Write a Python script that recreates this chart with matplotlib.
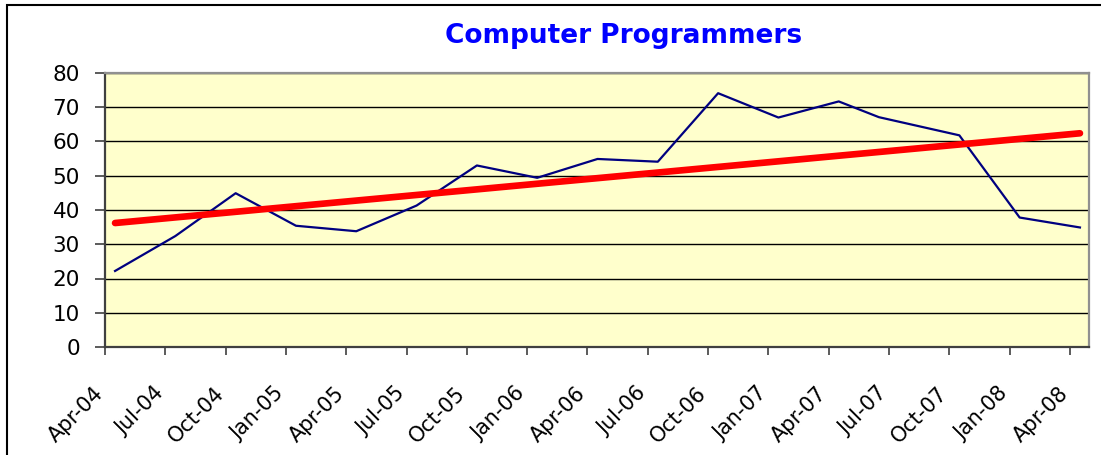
import matplotlib
matplotlib.use("Agg")
import matplotlib.pyplot as plt
from matplotlib.patches import Rectangle
from matplotlib.transforms import ScaledTranslation

# months since Apr-04 for each observation
months = [0.5, 3.5, 6.5, 9.5, 12.5, 15.5, 18.5, 21.5, 24.5, 27.5,
          30.5, 33.5, 36.5, 38.5, 42.5, 45.5, 48.5]
values = [22.2, 32.4, 44.9, 35.4, 33.8, 41.3, 53.0, 49.4, 54.9, 54.1,
          74.1, 67.0, 71.7, 67.1, 61.8, 37.8, 34.9]

# linear trendline end points
trend_months = [0.5, 48.5]
trend_values = [36.2, 62.4]

tick_months = list(range(0, 49, 3))
tick_labels = ["Apr-04", "Jul-04", "Oct-04", "Jan-05", "Apr-05", "Jul-05",
               "Oct-05", "Jan-06", "Apr-06", "Jul-06", "Oct-06", "Jan-07",
               "Apr-07", "Jul-07", "Oct-07", "Jan-08", "Apr-08"]

plt.rcParams["font.family"] = ["DejaVu Sans"]

W, H = 1101, 455
fig = plt.figure(figsize=(W / 100, H / 100), dpi=100)
ax = fig.add_axes([105 / W, 1 - 347 / H, 984 / W, 274 / H])
ax.set_facecolor("#FFFFCC")

ax.plot(months, values, color="#000080", lw=1.6, zorder=3)
ax.plot(trend_months, trend_values, color="#FF0000", lw=4.8,
        solid_capstyle="round", zorder=4)

ax.set_xlim(0, 48.95)
ax.set_ylim(0, 80)
ax.set_yticks(range(0, 81, 10))
ax.set_xticks(tick_months)
ax.set_xticklabels(tick_labels, rotation=45, ha="right", va="top",
                   rotation_mode="anchor")
ax.grid(axis="y", color="black", lw=1.0)
ax.set_axisbelow(True)

ax.tick_params(axis="y", direction="out", length=7, width=1.2,
               color="#404040", labelsize=15.5, pad=11)
ax.tick_params(axis="x", direction="out", length=6, width=1.2,
               color="#404040", labelsize=15, pad=20)

shift = ScaledTranslation(-12 / 100, 0, fig.dpi_scale_trans)
for lab in ax.get_xticklabels():
    lab.set_transform(lab.get_transform() + shift)

for side in ["left", "bottom"]:
    ax.spines[side].set_color("#404040")
    ax.spines[side].set_linewidth(1.6)
for side in ["top", "right"]:
    ax.spines[side].set_color("#909090")
    ax.spines[side].set_linewidth(1.6)

fig.text(624 / W, 1 - 36 / H, "Computer Programmers", color="#0000FF",
         fontsize=19, fontweight="bold", ha="center", va="center")

fig.patches.append(Rectangle((7 / W, -0.1), 1.2, 1.1 - 5 / H,
                             transform=fig.transFigure, fill=False,
                             edgecolor="black", lw=1.5))

fig.savefig("out.png", dpi=100)
